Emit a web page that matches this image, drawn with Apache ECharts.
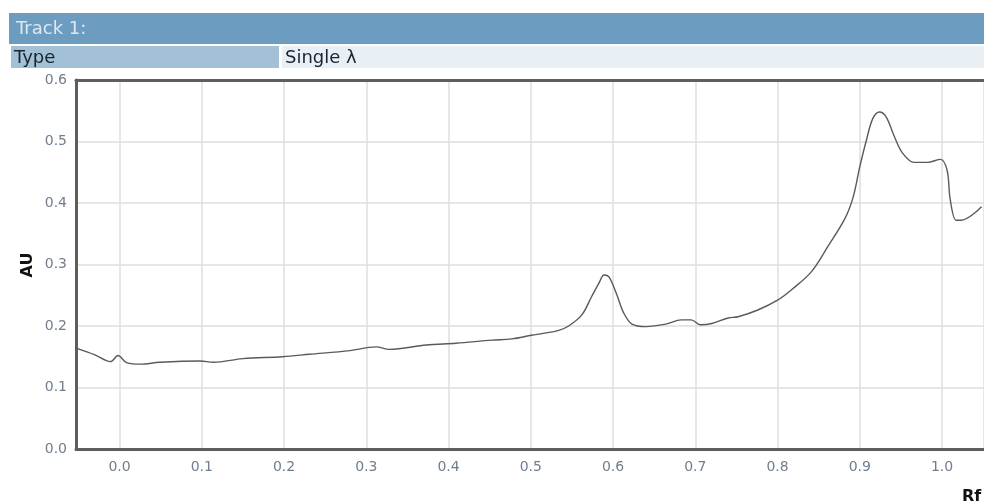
<!DOCTYPE html>
<html>
<head>
<meta charset="utf-8">
<script src="https://cdn.jsdelivr.net/npm/echarts@6/dist/echarts.min.js"></script>
<style>
    html, body { margin: 0; padding: 0; background: #fff; }
    #densitogram { width: 984px; height: 503px; }
</style>
</head>
<body>
<div id="densitogram"></div>
<script>
// 数据: Rf 位置和吸光度 (AU)
var rfValues = [-0.053, -0.030, -0.011, -0.002, 0.009, 0.025, 0.049, 0.098, 0.114, 0.150,
    0.198, 0.231, 0.280, 0.312, 0.328, 0.373, 0.409, 0.453, 0.477, 0.501,
    0.515, 0.534, 0.546, 0.562, 0.574, 0.583, 0.589, 0.595, 0.604, 0.613,
    0.623, 0.640, 0.664, 0.683, 0.695, 0.706, 0.720, 0.740, 0.752, 0.776,
    0.800, 0.817, 0.841, 0.861, 0.882, 0.892, 0.900, 0.908, 0.916, 0.924,
    0.932, 0.942, 0.952, 0.966, 0.982, 0.998, 1.006, 1.010, 1.017, 1.023, 1.048];
var auValues = [0.164, 0.153, 0.142, 0.152, 0.140, 0.138, 0.141, 0.143, 0.141, 0.147,
    0.150, 0.154, 0.160, 0.166, 0.162, 0.169, 0.172, 0.177, 0.179, 0.185,
    0.188, 0.193, 0.200, 0.218, 0.248, 0.270, 0.283, 0.280, 0.253, 0.221,
    0.203, 0.199, 0.203, 0.210, 0.210, 0.202, 0.204, 0.213, 0.215, 0.226,
    0.242, 0.259, 0.288, 0.329, 0.375, 0.410, 0.459, 0.502, 0.538, 0.548,
    0.540, 0.508, 0.481, 0.466, 0.466, 0.471, 0.454, 0.405, 0.372, 0.372, 0.394];
var yTicks = [0, 0.1, 0.2, 0.3, 0.4, 0.5, 0.6];

var trackTitle = 'Track 1:';
var typeLabel = 'Type';
var typeValue = 'Single λ';

function chartRender() {
    var chart = echarts.init(document.getElementById('densitogram'));

    var points = [];
    for (var i = 0; i < rfValues.length; i++) {
        points.push([rfValues[i], auValues[i]]);
    }

    var labelColor = '#707d8e';
    var font = 'DejaVu Sans';
    var frame = { show: true, onZero: false, lineStyle: { color: '#5e5e5e', width: 3 } };

    var option = {
        animation: false,
        grid: {
            left: 76,
            top: 80,
            right: -2,
            bottom: 54
        },
        // 头部
        graphic: [
            { type: 'rect', shape: { x: 9, y: 13, width: 980, height: 31 }, style: { fill: '#6c9cbf' } },
            { type: 'text', x: 16, y: 29, style: { text: trackTitle, fill: '#dbe8f1', font: '18px "DejaVu Sans"', verticalAlign: 'middle' } },
            { type: 'rect', shape: { x: 11, y: 46, width: 268, height: 22 }, style: { fill: '#a2c0d6' } },
            { type: 'rect', shape: { x: 282, y: 46, width: 710, height: 22 }, style: { fill: '#e8f0f5' } },
            { type: 'text', x: 14, y: 58, style: { text: typeLabel, fill: '#1a2430', font: '500 18px "DejaVu Sans"', verticalAlign: 'middle' } },
            { type: 'text', x: 285, y: 58, style: { text: typeValue, fill: '#1a2430', font: '500 18px "DejaVu Sans"', verticalAlign: 'middle' } },
            { type: 'text', x: 28, y: 265, rotation: Math.PI / 2, style: { text: 'AU', fill: '#111', font: 'bold 16px "DejaVu Sans"', align: 'center', verticalAlign: 'middle' } },
            { type: 'text', x: 962, y: 489, style: { text: 'Rf', fill: '#111', font: 'bold 16px "DejaVu Sans"' } }
        ],
        xAxis: [{
            type: 'value',
            min: -0.053,
            max: 1.051,
            splitNumber: 11,
            axisLine: frame,
            axisTick: { show: false },
            splitLine: { lineStyle: { color: '#dedede', width: 1.5 } },
            axisLabel: {
                color: labelColor,
                fontFamily: font,
                fontSize: 14,
                margin: 11,
                showMinLabel: false,
                showMaxLabel: false,
                formatter: function (v) {
                    if (Math.abs(v * 10 - Math.round(v * 10)) > 1e-6) return '';
                    return v.toFixed(1);
                }
            }
        }, {
            // 顶部边框
            type: 'value',
            position: 'top',
            min: -0.053,
            max: 1.051,
            axisLine: frame,
            axisTick: { show: false },
            axisLabel: { show: false },
            splitLine: { show: false }
        }],
        yAxis: {
            type: 'value',
            min: yTicks[0],
            max: yTicks[yTicks.length - 1],
            interval: 0.1,
            axisLine: frame,
            axisTick: { show: false },
            splitLine: { lineStyle: { color: '#dedede', width: 1.5 } },
            axisLabel: {
                color: labelColor,
                fontFamily: font,
                fontSize: 14,
                margin: 9,
                formatter: function (v) { return v.toFixed(1); }
            }
        },
        series: [{
            type: 'line',
            data: points,
            showSymbol: false,
            smooth: 0.35,
            lineStyle: { color: '#5a5a5a', width: 1.4 },
            clip: true
        }]
    };

    chart.setOption(option);
}

chartRender();
</script>
</body>
</html>
